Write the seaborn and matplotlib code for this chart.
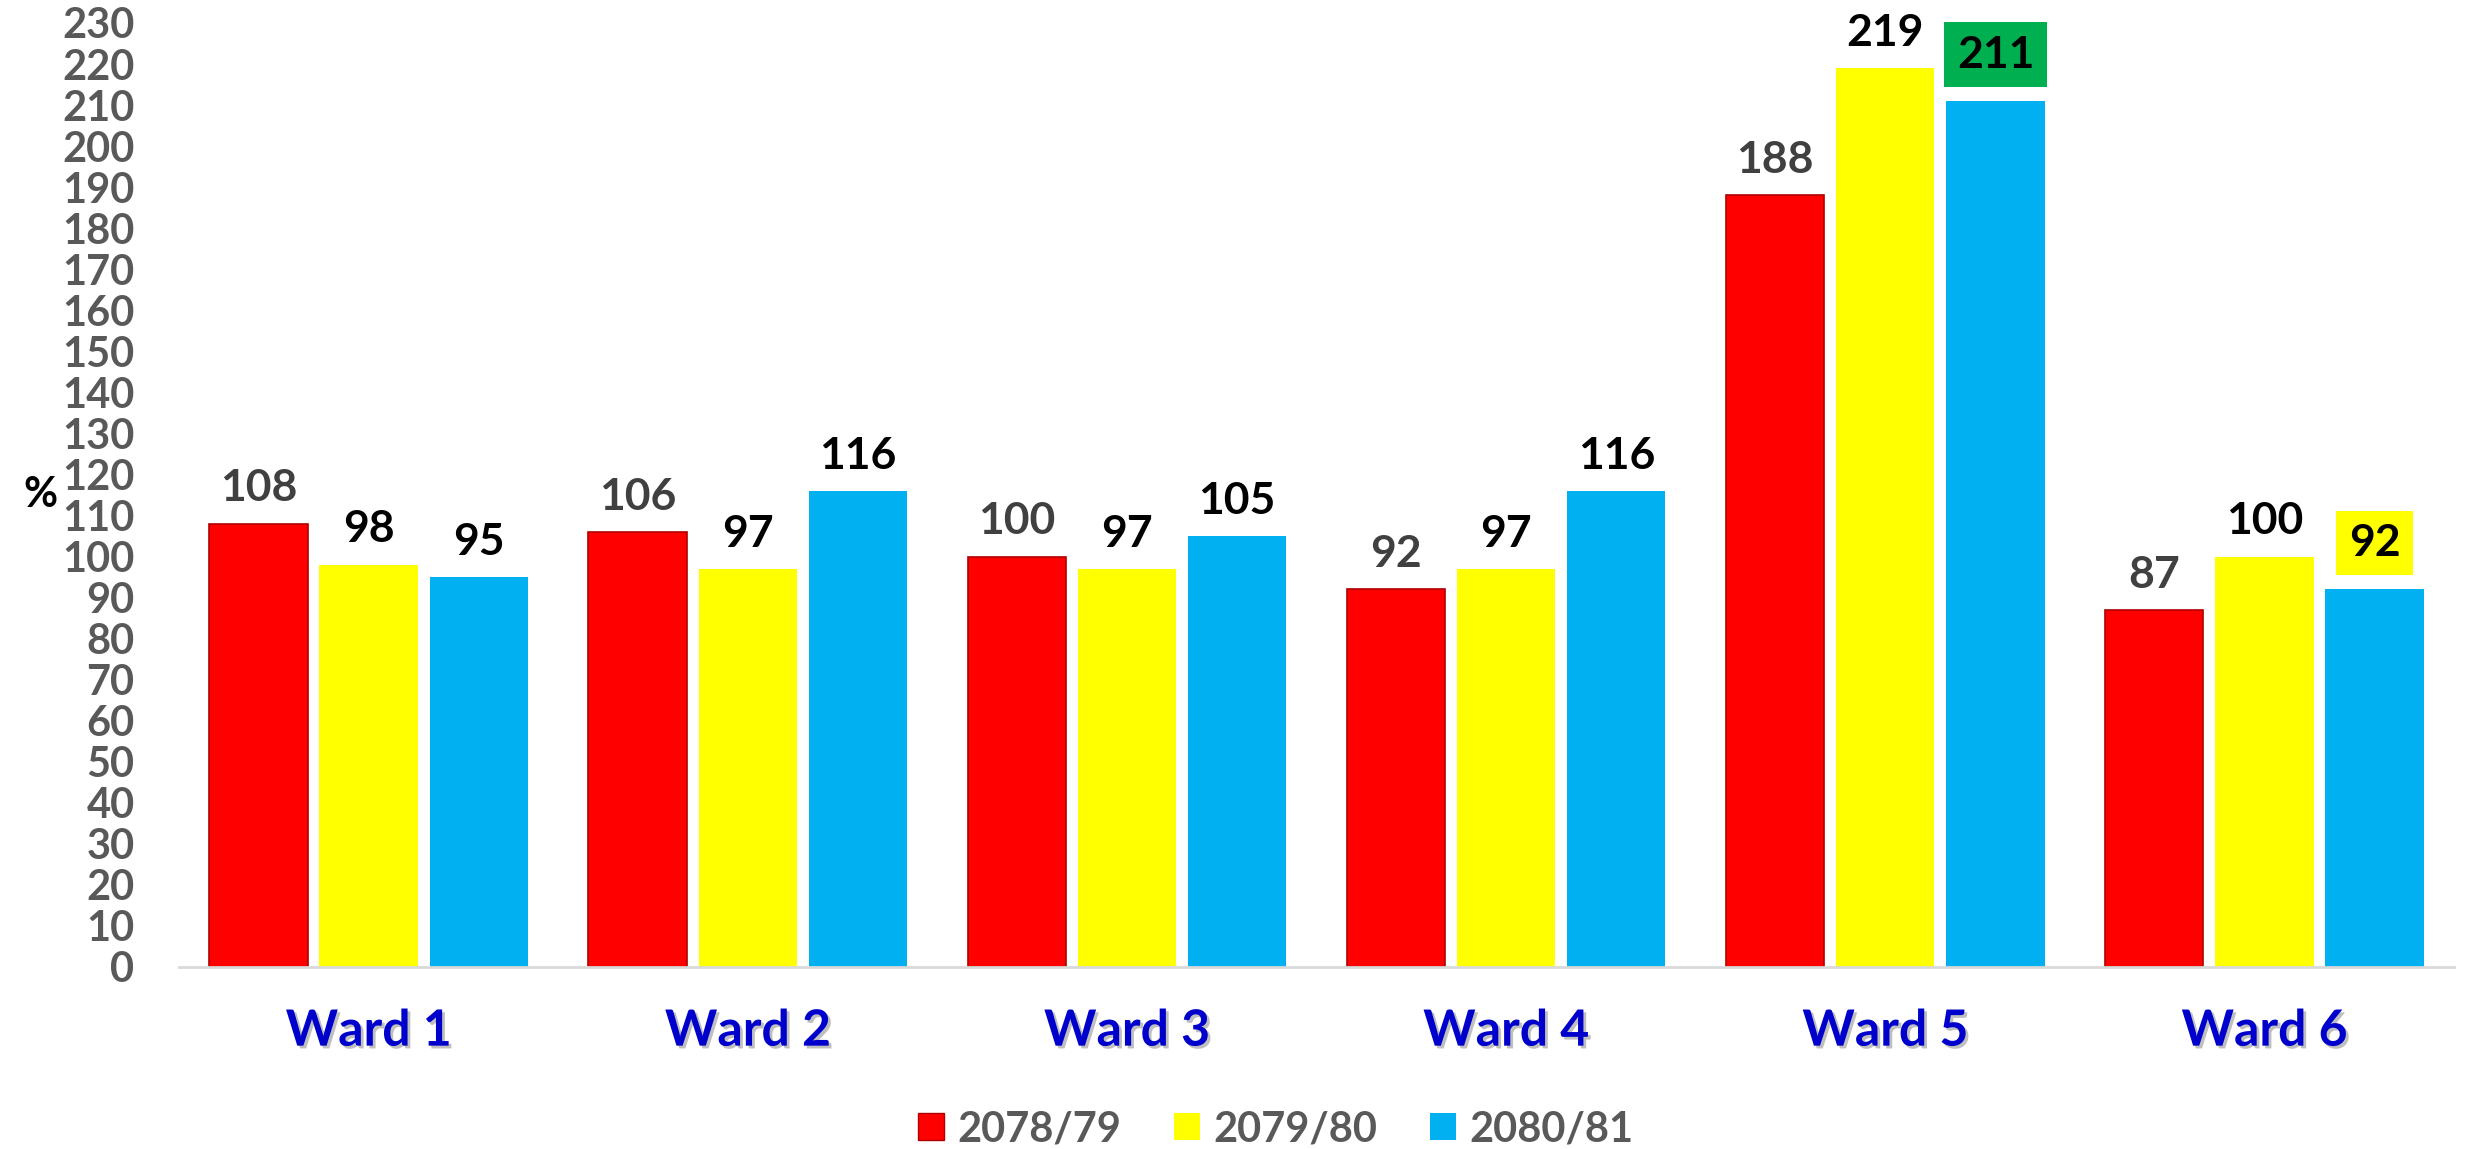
import matplotlib
matplotlib.use("Agg")
import matplotlib.pyplot as plt
import matplotlib.patheffects as pe
from matplotlib.patches import Patch
import pandas as pd
import seaborn as sns

wards = ["Ward 1", "Ward 2", "Ward 3", "Ward 4", "Ward 5", "Ward 6"]
years = ["2078/79", "2079/80", "2080/81"]
vals_2078 = [108, 106, 100, 92, 188, 87]
vals_2079 = [98, 97, 97, 97, 219, 100]
vals_2080 = [95, 116, 105, 116, 211, 92]
y_ticks = list(range(0, 231, 10))

colors = ["#FF0000", "#FFFF00", "#00B0F0"]
label_colors = ["#404040", "#000000", "#000000"]
# (series index, ward index) -> label box colour
boxed = {(2, 4): "#00B050", (2, 5): "#FFFF00"}


def main():
    df = pd.DataFrame({
        "ward": wards * 3,
        "year": [y for y in years for _ in wards],
        "value": vals_2078 + vals_2079 + vals_2080,
    })

    sns.set_style("white")
    plt.rcParams["font.family"] = ["Lato", "DejaVu Sans"]

    fig = plt.figure(figsize=(24.7, 11.49), dpi=100)
    ax = fig.add_axes([179 / 2470, 1 - 967 / 1149, 2275 / 2470, 944 / 1149])

    sns.barplot(data=df, x="ward", y="value", hue="year", palette=colors,
                hue_order=years, order=wards, width=0.872, gap=0.108,
                saturation=1, ax=ax, legend=False)

    for i, cont in enumerate(ax.containers):
        for bar in cont:
            if i == 0:
                bar.set_edgecolor("#B00000")
                bar.set_linewidth(1.2)
            else:
                bar.set_linewidth(0)
        texts = ax.bar_label(cont, padding=11, fontsize=32, fontweight="bold",
                             color=label_colors[i])
        for j, t in enumerate(texts):
            if (i, j) in boxed:
                t.set_bbox(dict(boxstyle="square,pad=0.28", fc=boxed[(i, j)], ec="none"))
                # lift the boxed ones so the box clears the bar top
                t.xyann = (t.xyann[0], t.xyann[1] + 8)

    ax.set_ylim(0, 230)
    ax.set_xlim(-0.5, 5.5)
    ax.set_yticks(y_ticks)
    ax.set_xlabel("")
    ax.set_ylabel("")
    ax.tick_params(axis="y", length=0, pad=32, labelsize=30, labelcolor="#595959")
    ax.tick_params(axis="x", length=0, pad=30, labelsize=36, labelcolor="#0000CC")
    for lab in ax.get_yticklabels():
        lab.set_fontweight("bold")
    for lab in ax.get_xticklabels():
        lab.set_fontweight("bold")
        lab.set_path_effects([pe.withSimplePatchShadow(offset=(2, -2), shadow_rgbFace="gray", alpha=0.5)])

    for side in ["top", "right", "left"]:
        ax.spines[side].set_visible(False)
    ax.spines["bottom"].set_color("#D9D9D9")
    ax.spines["bottom"].set_linewidth(2)

    fig.text(40 / 2470, 1 - 495 / 1149, "%", fontsize=30, fontweight="bold",
             color="black", ha="center", va="center")

    handles = [Patch(facecolor=c, edgecolor="#B00000" if k == 0 else "none") for k, c in enumerate(colors)]
    fig.legend(handles, years, loc="center", bbox_to_anchor=(1276 / 2470, 1 - 1129 / 1149),
               ncol=3, frameon=False, prop={"size": 30, "weight": "bold"},
               labelcolor="#595959", handlelength=0.62, handleheight=0.62,
               handletextpad=0.33, columnspacing=1.26)

    fig.savefig("out.png", dpi=100)
    plt.close(fig)


if __name__ == "__main__":
    main()
